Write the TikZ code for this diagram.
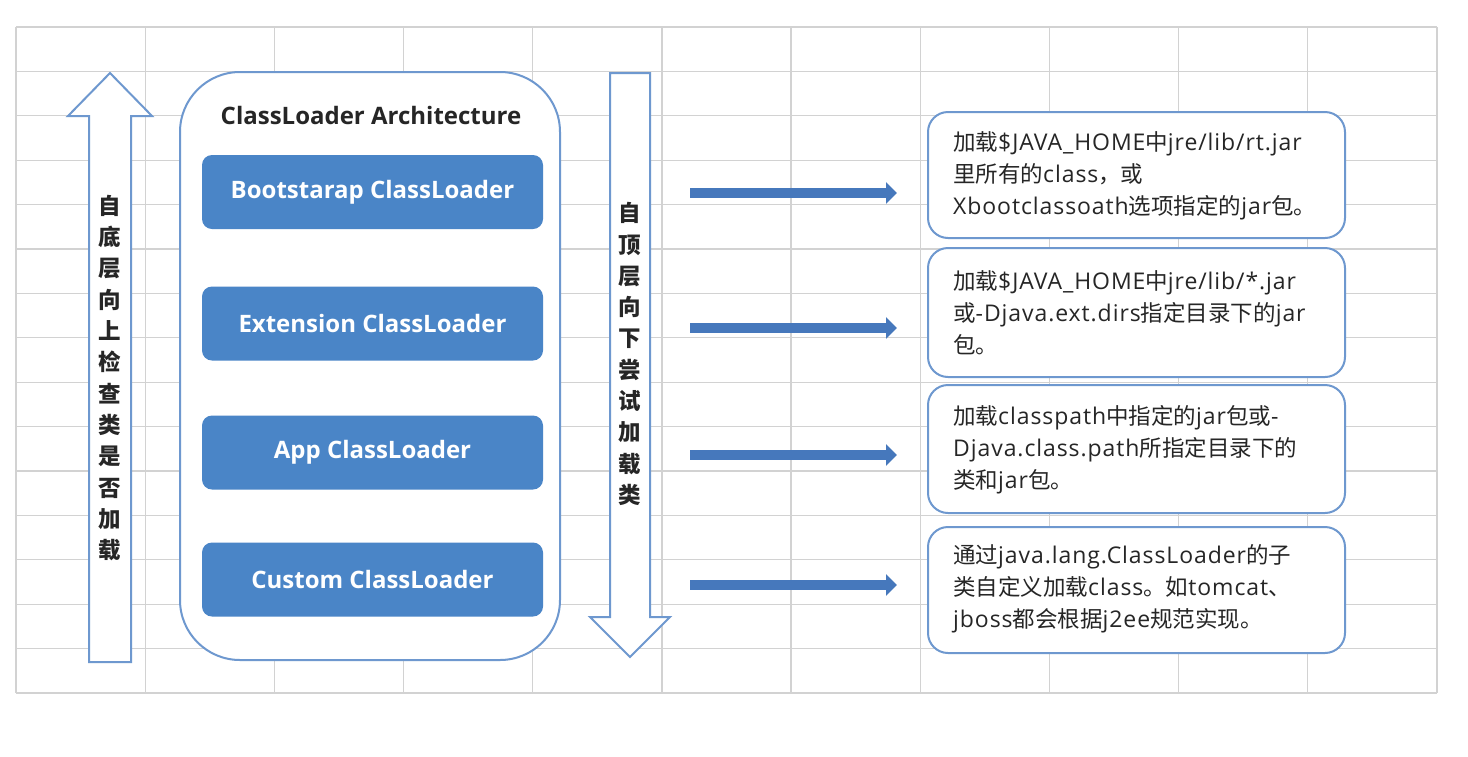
\documentclass[tikz,border=0pt]{standalone}
\usepackage{fontspec}
\setmainfont{Open Sans}
\newfontfamily\cjk{Noto Sans CJK SC}
\newfontfamily\latf[LetterSpace=4]{Open Sans}
\newcommand\lt[1]{{\latf\fontsize{23}{32}\selectfont #1}}
\usetikzlibrary{arrows.meta}
\definecolor{gridc}{HTML}{D2D2D2}
\definecolor{outl}{HTML}{6E98CF}
\definecolor{boxblue}{HTML}{4A85C7}
\definecolor{arrblue}{HTML}{4678BC}
\definecolor{txt}{HTML}{262626}
\tikzset{
  gridline/.style={gridc, line width=1.2pt},
  hollow/.style={draw=outl, fill=white, line width=2pt, line join=miter},
  archbox/.style={draw=outl, fill=white, line width=2pt, rounded corners=60pt, minimum width=380pt, minimum height=588pt},
  loader/.style={fill=boxblue, rounded corners=10pt, minimum width=341pt, minimum height=74pt, text=white, font=\fontsize{24}{28}\selectfont\bfseries},
  descbox/.style={draw=outl, fill=white, line width=2pt, rounded corners=20pt, minimum width=417pt},
  desctext/.style={anchor=west, align=left, text=txt, inner sep=0pt, font=\cjk\fontsize{22.5}{32}\selectfont},
  vtext/.style={align=center, text=txt, inner sep=0pt, font=\cjk\bfseries\fontsize{22.5}{31.3}\selectfont},
  conn/.style={arrblue, line width=10pt, -{Triangle[length=11pt, width=21pt]}, shorten >=30pt},
}
\begin{document}
\begin{tikzpicture}[x=1pt,y=-1pt]
\useasboundingbox (0,0) rectangle (1468,756);
\fill[white] (0,0) rectangle (1468,756);
% grid
\foreach \i in {0,...,11} \draw[gridline] ({16+\i*129.18},27) -- ({16+\i*129.18},693);
\foreach \j in {0,...,15} \draw[gridline] (16,{27+\j*44.4}) -- (1437,{27+\j*44.4});
% up arrow
\draw[hollow] (110,73) -- (152,116) -- (131,116) -- (131,662) -- (89,662) -- (89,116) -- (68,116) -- cycle;
\node[vtext] (uptext) at (110,378) {自\\底\\层\\向\\上\\检\\查\\类\\是\\否\\加\\载};
% down arrow
\draw[hollow] (610,73) -- (650,73) -- (650,617) -- (670,617) -- (630,657) -- (590,617) -- (610,617) -- cycle;
\node[vtext] (downtext) at (630,354) {自\\顶\\层\\向\\下\\尝\\试\\加\\载\\类};
% architecture box
\node[archbox] (arch) at (370,366) {};
\node[text=txt, font=\fontsize{24}{28}\selectfont\bfseries] (title) at (371,115) {ClassLoader Architecture};
\node[loader] (l1) at (372.5,192) {Bootstarap ClassLoader};
\node[loader] (l2) at (372.5,323.5) {Extension ClassLoader};
\node[loader] (l3) at (372.5,452.5) {App ClassLoader};
\node[loader] (l4) at (372.5,579.5) {Custom ClassLoader};
% description boxes
\node[descbox, minimum height=126pt] (r1) at (1136.5,175) {};
\node[descbox, minimum height=129pt] (r2) at (1136.5,312.5) {};
\node[descbox, minimum height=128pt] (r3) at (1136.5,449) {};
\node[descbox, minimum height=126pt] (r4) at (1136.5,590) {};
\node[desctext] (t1) at (953,176) {加载\lt{\$JAVA\_HOME}中\lt{jre/lib/rt.jar}\\里所有的\lt{class}，或\\\lt{Xbootclassoath}选项指定的\lt{jar}包。};
\node[desctext] (t2) at (953,313) {加载\lt{\$JAVA\_HOME}中\lt{jre/lib/*.jar}\\或\lt{-Djava.ext.dirs}指定目录下的\lt{jar}\\包。};
\node[desctext] (t3) at (953,450) {加载\lt{classpath}中指定的\lt{jar}包或\lt{-}\\\lt{Djava.class.path}所指定目录下的\\类和\lt{jar}包。};
\node[desctext] (t4) at (953,589) {通过\lt{java.lang.ClassLoader}的子\\类自定义加载\lt{class}。如\lt{tomcat}、\\\lt{jboss}都会根据\lt{j2ee}规范实现。};
% connectors
\coordinate (s1) at (690,193);
\coordinate (s2) at (690,328);
\coordinate (s3) at (690,455);
\coordinate (s4) at (690,585);
\draw[conn] (s1) -- (s1 -| r1.west);
\draw[conn] (s2) -- (s2 -| r2.west);
\draw[conn] (s3) -- (s3 -| r3.west);
\draw[conn] (s4) -- (s4 -| r4.west);
\end{tikzpicture}
\end{document}
